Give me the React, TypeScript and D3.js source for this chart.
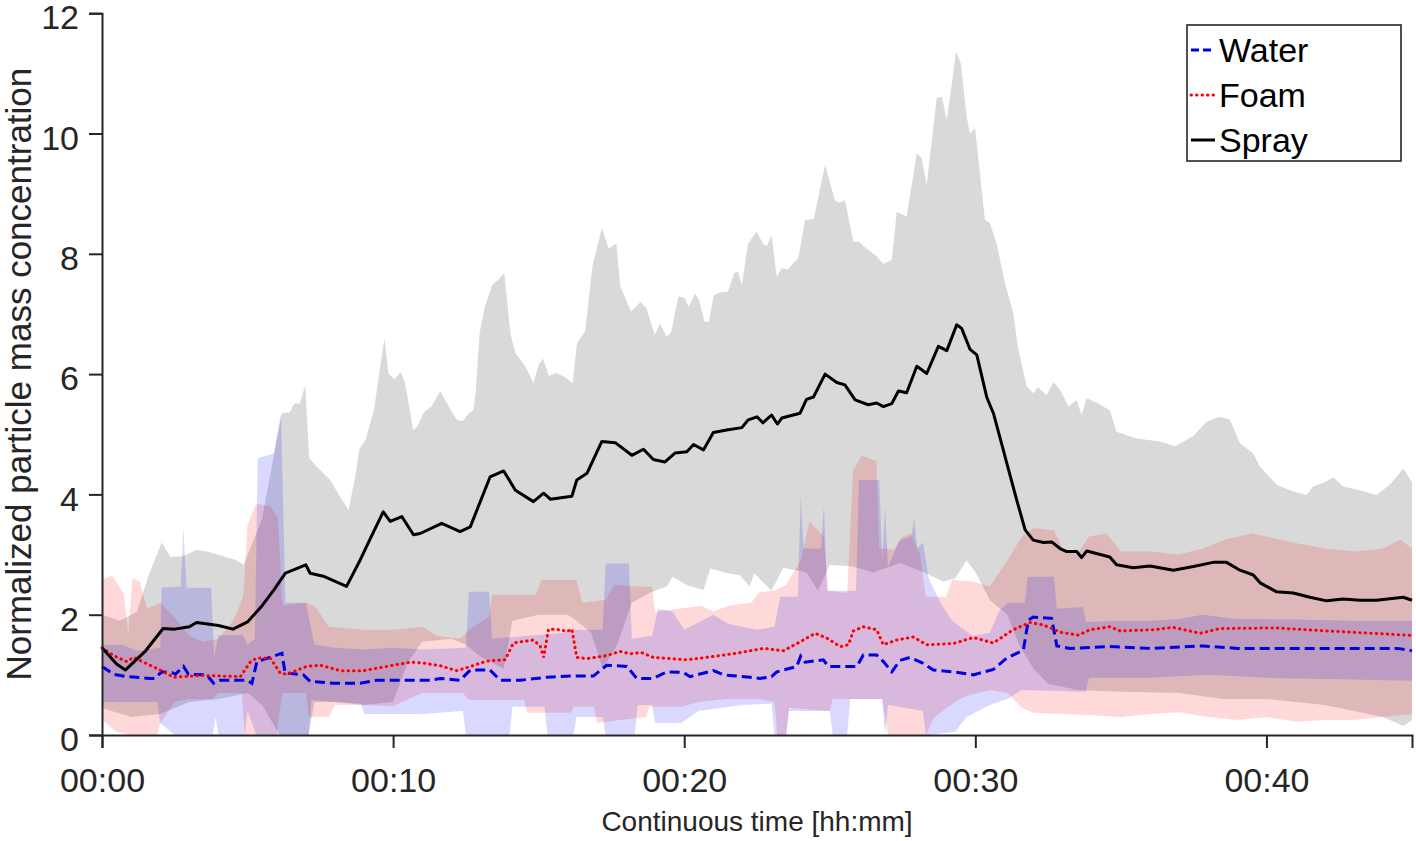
import * as d3 from "d3";
import { useRef, useEffect } from "react";

type Pt = [number, number];

// time in minutes, value = normalized mass concentration
const sprayMean: Pt[] = [[0,1.45],[0.5,1.18],[0.8,1.08],[1.5,1.4],[2.1,1.77],[2.5,1.76],[3,1.8],[3.25,1.87],[4,1.82],[4.5,1.76],[5,1.88],[5.5,2.15],[5.9,2.41],[6.3,2.69],[7,2.83],[7.15,2.69],[7.6,2.64],[8.4,2.47],[8.87,2.91],[9.2,3.25],[9.66,3.71],[9.9,3.55],[10.3,3.63],[10.7,3.33],[10.93,3.35],[11.67,3.52],[12.3,3.38],[12.65,3.46],[13.33,4.29],[13.8,4.39],[14.2,4.07],[14.82,3.88],[15.17,4.02],[15.4,3.92],[16.14,3.97],[16.31,4.24],[16.66,4.35],[17.17,4.88],[17.63,4.86],[18.2,4.65],[18.6,4.75],[18.94,4.58],[19.34,4.54],[19.69,4.69],[20.09,4.71],[20.32,4.83],[20.66,4.74],[21,5.03],[21.46,5.07],[21.98,5.11],[22.2,5.24],[22.5,5.29],[22.7,5.19],[23,5.32],[23.2,5.17],[23.35,5.27],[23.98,5.35],[24.2,5.58],[24.44,5.62],[24.84,6],[25.24,5.86],[25.52,5.82],[25.87,5.57],[26.32,5.49],[26.61,5.52],[26.84,5.46],[27.13,5.51],[27.36,5.72],[27.64,5.69],[27.99,6.13],[28.33,6.01],[28.73,6.46],[29.02,6.39],[29.36,6.82],[29.53,6.76],[29.82,6.41],[30.05,6.32],[30.39,5.62],[30.62,5.35],[30.96,4.74],[31.08,4.52],[31.42,3.91],[31.71,3.41],[31.99,3.24],[32.34,3.2],[32.62,3.21],[32.91,3.1],[33.14,3.05],[33.48,3.05],[33.65,2.95],[33.83,3.06],[34.62,2.96],[34.85,2.83],[35.42,2.78],[36,2.81],[36.8,2.74],[37.49,2.8],[38.17,2.87],[38.63,2.87],[39.09,2.74],[39.55,2.66],[39.78,2.53],[40.35,2.38],[40.92,2.36],[41.49,2.29],[42.07,2.23],[42.64,2.26],[43.21,2.24],[43.78,2.24],[44.7,2.29],[45,2.24]];

const sprayHi: Pt[] = [[0,2.0],[0.6,1.9],[1.2,2.05],[1.6,2.65],[2.05,3.2],[2.35,2.96],[2.8,2.97],[3.25,3.08],[3.6,3.05],[4.05,2.99],[4.6,2.91],[4.86,2.83],[5,2.99],[5.5,3.6],[6,4.9],[6.18,5.35],[6.45,5.36],[6.6,5.51],[6.8,5.51],[6.98,5.82],[7.12,4.6],[7.4,4.45],[7.84,4.24],[8.18,3.96],[8.47,3.74],[8.7,4.3],[8.84,4.75],[9.05,4.9],[9.34,5.4],[9.7,6.59],[9.84,6.01],[10.05,5.91],[10.26,6.04],[10.41,5.85],[10.69,5.07],[10.85,5.14],[11.05,5.36],[11.33,5.47],[11.62,5.72],[11.85,5.51],[12.19,5.24],[12.4,5.22],[12.6,5.35],[12.75,5.39],[12.83,5.67],[12.97,6.68],[13.15,7.12],[13.4,7.48],[13.6,7.56],[13.82,7.68],[14.03,6.68],[14.2,6.35],[14.54,6.13],[14.82,5.85],[15,6.15],[15.15,6.26],[15.35,5.97],[15.6,6.02],[15.9,5.95],[16.17,5.85],[16.31,6.51],[16.6,6.72],[16.85,7.8],[17.17,8.43],[17.4,8.09],[17.67,8.17],[17.8,7.47],[18.17,7.04],[18.5,7.2],[18.7,7.1],[18.99,6.65],[19.17,6.84],[19.4,6.62],[19.55,6.7],[19.8,7.29],[20,7.27],[20.16,7.12],[20.37,7.34],[20.5,7.25],[20.7,6.87],[20.85,6.87],[21.01,7.31],[21.3,7.37],[21.5,7.37],[21.72,7.68],[21.85,7.7],[21.98,7.48],[22.19,8.17],[22.49,8.37],[22.72,8.15],[22.85,8.14],[23,8.31],[23.18,7.62],[23.35,7.76],[23.55,7.74],[23.92,7.93],[24.15,8.56],[24.45,8.58],[24.84,9.48],[25.18,8.88],[25.35,8.85],[25.52,8.89],[25.81,8.2],[26,8.2],[26.21,8.11],[26.61,7.96],[26.84,7.83],[27.13,7.9],[27.3,8.7],[27.64,8.62],[27.99,9.67],[28.16,9.59],[28.33,9.14],[28.67,10.59],[28.85,10.61],[29.02,10.22],[29.34,11.36],[29.5,11.17],[29.71,10.25],[29.82,10.0],[29.99,10.09],[30.33,8.56],[30.5,8.51],[30.73,8.17],[31.02,7.51],[31.3,7.01],[31.48,6.4],[31.77,5.79],[31.99,5.68],[32.15,5.78],[32.45,5.65],[32.68,5.87],[32.9,5.75],[33.2,5.46],[33.48,5.57],[33.65,5.32],[33.83,5.6],[34.22,5.51],[34.51,5.43],[34.62,5.4],[34.85,5.04],[35.54,4.93],[36.34,4.88],[36.86,4.8],[37.49,4.97],[37.95,5.21],[38.4,5.29],[38.75,5.24],[39.09,4.85],[39.55,4.68],[39.78,4.46],[40.35,4.16],[40.92,4.05],[41.38,3.99],[41.6,4.13],[42,4.2],[42.3,4.28],[42.64,4.13],[43.21,4.07],[43.78,3.99],[44.24,4.16],[44.7,4.43],[45,4.2]];

const sprayLo: Pt[] = [[0,0.45],[1,0.3],[2,0.35],[3,0.55],[4,0.6],[5,0.7],[5.5,0.5],[6.1,0],[7.1,0],[7.3,0.55],[8,0.55],[9,0.5],[10,0.55],[10.5,1.2],[11,1.55],[12,1.6],[12.5,1.5],[13,1.3],[13.4,1.2],[13.8,1.1],[14.1,1.9],[15,2.0],[16,2.0],[16.3,1.9],[16.8,1.7],[17.2,1.1],[17.7,1.5],[18.2,2.2],[18.8,2.36],[19.4,2.47],[19.6,2.63],[20.1,2.49],[20.66,2.41],[20.9,2.77],[21.5,2.69],[21.9,2.66],[22.26,2.47],[22.4,2.69],[23,2.4],[23.4,2.78],[24.2,2.7],[24.6,2.4],[25,2.83],[25.8,2.8],[26.5,2.7],[27.4,2.86],[28.3,2.69],[28.9,2.55],[29.3,2.6],[29.7,2.9],[30,2.71],[30.5,2.24],[31.1,2.0],[31.5,1.5],[32,1.1],[32.5,0.85],[33.5,0.75],[35,0.72],[37,0.7],[38.5,0.6],[40,0.6],[41,0.55],[42,0.5],[43,0.4],[44,0.3],[44.7,0.15],[45,0.25]];

const foamMean: Pt[] = [[0,1.45],[0.4,1.32],[0.85,1.22],[1.08,1.29],[1.43,1.21],[2,1.08],[2.46,0.96],[3.4,0.99],[4.75,0.97],[5.09,1.21],[5.32,1.28],[5.78,1.28],[6.12,1.03],[6.35,1.01],[7.03,1.14],[7.5,1.16],[8.18,1.07],[8.98,1.07],[9.78,1.14],[10.59,1.21],[11,1.2],[11.62,1.15],[12.19,1.07],[12.53,1.12],[13.22,1.23],[13.85,1.25],[14.13,1.53],[14.82,1.58],[15.05,1.48],[15.17,1.29],[15.34,1.76],[15.74,1.75],[15.97,1.72],[16.14,1.76],[16.31,1.29],[16.66,1.27],[17.34,1.32],[17.8,1.39],[18.14,1.35],[18.54,1.37],[18.94,1.29],[20.09,1.25],[21.23,1.32],[21.92,1.37],[22.72,1.44],[23.41,1.4],[23.98,1.55],[24.5,1.69],[24.9,1.61],[25.36,1.47],[25.64,1.5],[25.81,1.73],[26.15,1.8],[26.61,1.75],[26.84,1.5],[27.3,1.58],[27.87,1.63],[28.33,1.5],[29.25,1.52],[29.93,1.62],[30.62,1.53],[31.3,1.75],[31.88,1.87],[32.34,1.83],[32.91,1.71],[33.54,1.66],[33.94,1.75],[34.62,1.8],[34.97,1.73],[36.11,1.75],[36.8,1.79],[37.72,1.69],[38.4,1.77],[40.35,1.78],[42.07,1.73],[44.87,1.66],[45,1.66]];

const foamHi: Pt[] = [[0,2.58],[0.35,2.65],[0.75,2.35],[0.9,1.7],[1.05,2.6],[1.3,2.55],[1.55,2.1],[2,2.2],[2.5,1.95],[3,1.65],[3.5,1.55],[4,1.6],[4.5,1.9],[4.85,2.3],[5,3.5],[5.3,3.85],[5.8,3.8],[6.05,3.6],[6.2,2.15],[7,2.2],[7.3,2.15],[7.8,1.8],[9,1.75],[10,1.75],[11,1.8],[11.5,1.65],[12.3,1.6],[12.6,1.75],[13.3,1.97],[13.4,2.33],[14.9,2.33],[15.1,2.58],[16.3,2.58],[16.5,2.2],[17.3,2.25],[17.6,2.5],[18.4,2.47],[18.9,2.47],[19,2.05],[19.8,2.1],[20.6,2.15],[21,2.05],[21.5,2.15],[22.3,2.2],[22.6,2.38],[23.1,2.4],[23.5,2.5],[24,2.9],[24.3,3.55],[24.8,3.3],[24.95,2.4],[25.6,2.36],[25.8,4.4],[26.1,4.65],[26.6,4.55],[26.7,3.1],[27.2,3.08],[27.5,3.3],[27.8,3.35],[28.1,3.0],[28.3,2.3],[29,2.3],[29.2,2.58],[29.9,2.55],[30.5,2.47],[30.8,2.69],[31.1,2.9],[31.6,3.3],[32,3.44],[32.7,3.4],[33,3.1],[33.5,3.0],[33.9,3.3],[34.5,3.35],[35,3.05],[36,3.05],[37,3.0],[37.8,3.1],[38.6,3.25],[39.5,3.35],[40,3.3],[40.9,3.2],[42,3.1],[43,3.05],[44,3.1],[44.6,3.25],[45,3.1]];

const foamLo: Pt[] = [[0,0.25],[0.5,0.05],[1,0],[1.9,0],[2,0.2],[2.5,0.55],[3,0.6],[3.8,0.6],[4,0.7],[4.8,0.7],[4.9,0],[6,0],[6.2,0.7],[7,0.7],[7.1,0.3],[7.8,0.3],[8,0.5],[9,0.5],[10,0.48],[11,0.7],[12.4,0.7],[12.6,0.58],[14.5,0.58],[14.6,0.37],[16.1,0.37],[16.2,0.47],[16.9,0.47],[17,0.2],[17.8,0.25],[18.7,0.3],[18.8,0.47],[19.9,0.47],[20.5,0.55],[21.5,0.6],[22.5,0.6],[23.1,0.55],[23.2,0],[23.5,0],[23.6,0.45],[25,0.4],[25.1,0.6],[26.8,0.6],[27,0],[28.3,0],[28.6,0.3],[29.3,0.55],[29.7,0.65],[30.5,0.75],[31.1,0.7],[31.6,0.45],[32,0.37],[33,0.35],[34,0.33],[35,0.3],[36,0.35],[37,0.38],[38,0.3],[39,0.25],[40,0.3],[41,0.22],[42,0.25],[43,0.25],[44,0.3],[45,0.35]];

const waterMean: Pt[] = [[0,1.14],[0.4,1.01],[0.85,0.97],[1.66,0.94],[1.8,0.94],[2.06,1.05],[2.4,1.04],[2.52,1.01],[2.8,1.14],[2.97,1.01],[3.6,1.0],[3.83,0.86],[4.06,0.91],[4.98,0.91],[5.15,0.86],[5.32,1.22],[5.84,1.3],[6.18,1.36],[6.29,1.03],[6.92,1.0],[7.15,0.89],[7.95,0.86],[8.87,0.86],[9.44,0.91],[10.24,0.91],[11.27,0.91],[11.62,0.94],[12.3,0.91],[12.65,1.08],[13.33,1.08],[13.68,0.91],[14.37,0.91],[15.28,0.96],[16.08,0.98],[16.88,0.98],[17.34,1.16],[18.03,1.14],[18.37,0.94],[18.94,0.94],[19.4,1.05],[19.97,1.04],[20.2,0.97],[21,1.07],[21.35,1.0],[22.26,0.96],[22.6,0.94],[23,0.97],[23.18,1.05],[23.87,1.14],[24,1.31],[24.15,1.21],[24.78,1.25],[24.95,1.14],[25.93,1.14],[26.15,1.33],[26.61,1.33],[26.84,1.22],[27.13,1.05],[27.41,1.24],[27.76,1.29],[28.21,1.19],[28.56,1.08],[29.25,1.05],[29.93,1.0],[30.62,1.09],[31.08,1.28],[31.65,1.41],[31.82,1.91],[31.99,1.96],[32.62,1.94],[32.8,1.48],[33.25,1.44],[34.6,1.47],[36,1.44],[37.8,1.48],[39,1.44],[42,1.44],[44.5,1.44],[45,1.4]];

const waterHi: Pt[] = [[0,1.5],[0.7,1.5],[1.2,1.4],[2,1.45],[2.05,2.45],[2.7,2.47],[2.8,3.45],[2.9,2.45],[3.75,2.45],[3.85,1.3],[4,1.66],[4.85,1.66],[5,1.5],[5.25,1.6],[5.35,4.6],[5.9,4.68],[6.15,5.35],[6.3,2.2],[7,2.2],[7.3,1.5],[8,1.45],[9,1.42],[10,1.45],[11,1.42],[12.5,1.45],[12.6,2.38],[13.3,2.38],[13.4,1.6],[15.9,1.7],[16,1.75],[17.2,1.75],[17.3,2.85],[18.1,2.85],[18.2,1.6],[18.9,1.65],[19.1,2.1],[19.6,2.05],[20,1.75],[21,2.0],[21.5,1.85],[22.5,1.75],[23.1,1.8],[23.3,2.3],[23.9,2.3],[24,3.96],[24.1,3.1],[24.7,3.1],[24.8,3.82],[24.9,2.4],[25.9,2.4],[26,4.24],[26.7,4.24],[26.8,2.9],[26.9,3.79],[27,2.8],[27.4,3.24],[27.8,3.3],[27.9,3.6],[28,3.1],[28.2,3.2],[28.4,2.6],[28.8,2.2],[29.2,1.9],[29.9,1.65],[30.5,1.7],[30.8,2.05],[31.1,2.2],[31.7,2.2],[31.8,2.63],[32.7,2.63],[32.8,2.1],[33.7,2.13],[33.8,1.88],[35,1.9],[36,1.9],[37,1.93],[37.8,2.0],[39,1.93],[41,1.92],[43,1.9],[45,1.9]];

const waterLo: Pt[] = [[0,0.55],[1.9,0.55],[2,0.2],[2.5,0],[3.8,0],[3.9,0.3],[4,0],[4.9,0],[5,0.4],[5.3,0],[7.1,0],[7.2,0.58],[8,0.55],[8.9,0.52],[9,0.35],[11,0.35],[12.4,0.4],[12.5,0],[14,0],[14.1,0.47],[15.2,0.47],[15.3,0],[16.2,0],[16.3,0.3],[17.2,0.3],[17.3,0],[18.3,0],[18.4,0.5],[18.9,0.5],[19,0.2],[19.9,0.2],[20.5,0.4],[22,0.5],[23,0.52],[23.1,0],[23.5,0],[23.6,0.4],[25,0.4],[25.1,0],[25.6,0],[25.7,0.6],[26.8,0.6],[26.9,0],[27,0.5],[28.2,0.4],[28.3,0],[29.3,0.05],[29.7,0.3],[30.5,0.5],[31.1,0.6],[31.6,0.75],[33.8,0.72],[33.9,0.95],[36,0.95],[38,1.0],[40,0.95],[42,0.93],[45,0.9]];

const xTicks = [0, 10, 20, 30, 40];
const yTicks = [0, 2, 4, 6, 8, 10, 12];
const legendLabels = ["Water", "Foam", "Spray"];

const W = 1416;
const H = 841;
const FONT = "'Liberation Sans', Arial, Helvetica, sans-serif";
const AXIS = "#262626";
const BLUE = "#0000e0";
const RED = "#ff0000";

export default function App() {
  const gx = useRef<SVGGElement>(null);
  const gy = useRef<SVGGElement>(null);

  const x = d3.scaleLinear([0, 45], [102, 1412]);
  const y = d3.scaleLinear([0, 12], [735, 13.2]);

  const line = d3.line<Pt>((d) => x(d[0]), (d) => y(d[1]));
  const band = (hi: Pt[], lo: Pt[]) => line([...hi, ...lo.slice().reverse()]) + "Z";

  useEffect(() => {
    const ax = d3
      .axisBottom(x)
      .tickValues(xTicks)
      .tickSize(13)
      .tickPadding(20)
      .tickFormat((d) => "00:" + String(d).padStart(2, "0"));
    const g = d3.select(gx.current!).call(ax);
    g.select(".domain").attr("stroke", AXIS).attr("stroke-width", 2);
    g.selectAll(".tick line").attr("stroke", AXIS).attr("stroke-width", 2);
    g.selectAll(".tick text").attr("fill", AXIS).attr("font-size", 34).attr("font-family", FONT);
  }, []);

  useEffect(() => {
    const ay = d3.axisLeft(y).tickValues(yTicks).tickSize(13).tickPadding(10);
    const g = d3.select(gy.current!).call(ay);
    g.select(".domain").attr("stroke", AXIS).attr("stroke-width", 2);
    g.selectAll(".tick line").attr("stroke", AXIS).attr("stroke-width", 2);
    g.selectAll(".tick text")
      .attr("fill", AXIS)
      .attr("font-size", 34)
      .attr("font-family", FONT)
      .attr("dy", "0.46em");
  }, []);

  return (
    <div style={{ position: "absolute", left: 0, top: 0 }}>
      <svg width={W} height={H} style={{ display: "block", background: "#fff" }}>
        {/* std bands */}
        <path d={band(sprayHi, sprayLo)} fill="#000" fillOpacity={0.15} />
        <path d={band(foamHi, foamLo)} fill="#f00" fillOpacity={0.15} />
        <path d={band(waterHi, waterLo)} fill="#00f" fillOpacity={0.15} />
        {/* means */}
        <path d={line(waterMean)!} fill="none" stroke={BLUE} strokeWidth={3} strokeDasharray="10 5" />
        <path
          d={line(foamMean)!}
          fill="none"
          stroke={RED}
          strokeWidth={3}
          strokeDasharray="0.5 5"
          strokeLinecap="round"
        />
        <path d={line(sprayMean)!} fill="none" stroke="#000" strokeWidth={3} strokeLinejoin="round" />

        <g ref={gx} transform={`translate(0,${735})`} />
        <g ref={gy} transform={`translate(102,0)`} />

        <text
          transform={`translate(31,${(13.2 + 735) / 2}) rotate(-90)`}
          textAnchor="middle"
          fontFamily={FONT}
          fontSize={35}
          fill={AXIS}
        >
          Normalized particle mass concentration
        </text>
        <text x={757} y={831} textAnchor="middle" fontFamily={FONT} fontSize={28} fill={AXIS}>
          Continuous time [hh:mm]
        </text>

        {/* legend */}
        <g>
          <rect x={1187} y={25} width={214} height={136} fill="#fff" stroke={AXIS} strokeWidth={1.6} />
          {legendLabels.map((lab, i) => {
            const cy = 50 + i * 45;
            const stroke = [BLUE, RED, "#000"][i];
            const dash = ["8 4", "0.5 5", undefined][i];
            return (
              <g key={lab}>
                <line
                  x1={1191}
                  x2={1215}
                  y1={cy}
                  y2={cy}
                  stroke={stroke}
                  strokeWidth={3}
                  strokeDasharray={dash}
                  strokeLinecap={i === 1 ? "round" : "butt"}
                />
                <text x={1219} y={cy + 12} fontFamily={FONT} fontSize={34} fill="#000">
                  {lab}
                </text>
              </g>
            );
          })}
        </g>
      </svg>
    </div>
  );
}
